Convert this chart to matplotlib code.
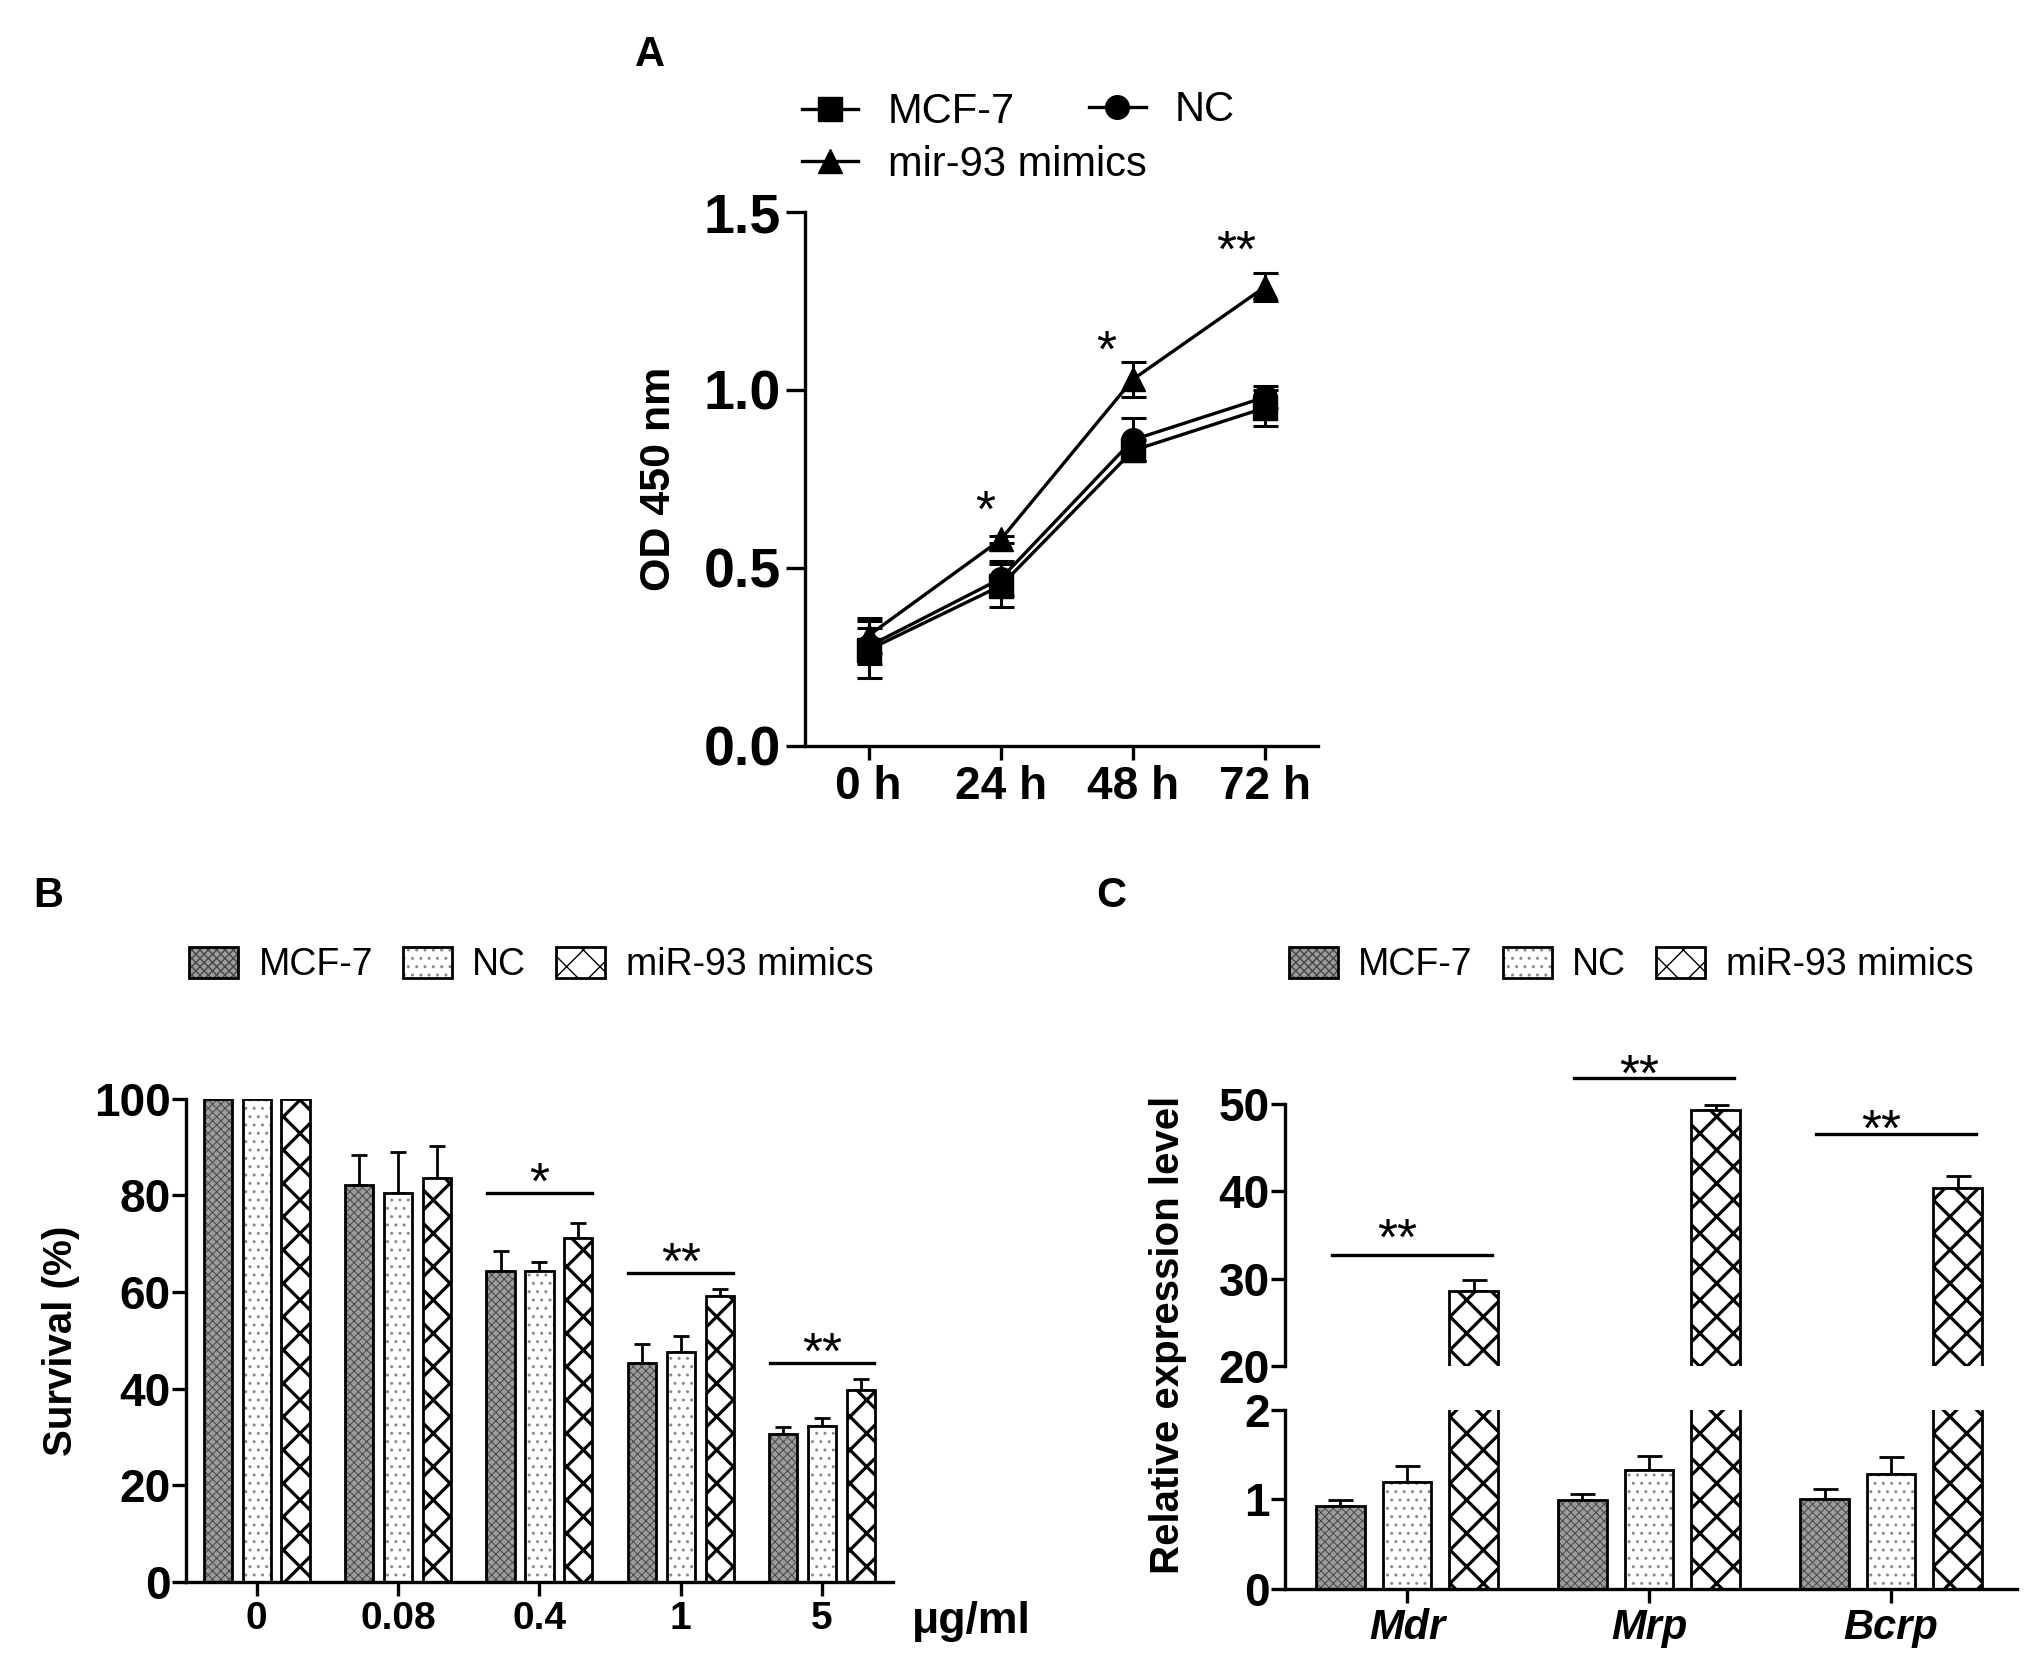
import numpy as np
import matplotlib
matplotlib.use('Agg')
import matplotlib.pyplot as plt
from matplotlib.patches import Patch
from matplotlib.lines import Line2D
from matplotlib.legend_handler import HandlerTuple

plt.rcParams['font.family'] = ['Liberation Sans', 'DejaVu Sans']
plt.rcParams['hatch.linewidth'] = 1.0

# ---- panel A : OD 450 nm over time
time_labels = ['0 h', '24 h', '48 h', '72 h']
od_mcf7 = [0.27, 0.45, 0.83, 0.95]
od_mcf7_err = [0.08, 0.06, 0.03, 0.05]
od_nc = [0.28, 0.47, 0.86, 0.98]
od_nc_err = [0.05, 0.05, 0.06, 0.03]
od_mimics = [0.31, 0.58, 1.03, 1.29]
od_mimics_err = [0.05, 0.01, 0.05, 0.04]
od_sig = ['', '*', '*', '**']
od_sig_y = [0, 0.70, 1.15, 1.43]
od_sig_dx = [0, -0.12, -0.2, -0.22]

# ---- panel B : survival vs dose
doses = ['0', '0.08', '0.4', '1', '5']
surv_mcf7 = [100, 82.1, 64.4, 45.4, 30.6]
surv_mcf7_err = [0, 6.2, 4.2, 3.8, 1.4]
surv_nc = [100, 80.6, 64.4, 47.5, 32.2]
surv_nc_err = [0, 8.3, 1.8, 3.4, 1.8]
surv_mimics = [100, 83.7, 71.3, 59.2, 39.7]
surv_mimics_err = [0, 6.5, 3.0, 1.4, 2.4]
surv_sig = ['', '', '*', '**', '**']
surv_sig_y = [0, 0, 80.6, 64.0, 45.4]

# ---- panel C : relative expression
genes = ['Mdr', 'Mrp', 'Bcrp']
expr_mcf7 = [0.93, 0.99, 1.01]
expr_mcf7_err = [0.06, 0.07, 0.11]
expr_nc = [1.20, 1.33, 1.28]
expr_nc_err = [0.17, 0.15, 0.19]
expr_mimics = [28.6, 49.3, 40.4]
expr_mimics_err = [1.2, 0.6, 1.4]
expr_sig = ['**', '**', '**']
expr_sig_y = [32.7, 53.0, 46.5]
expr_sig_gap = [22, 12, 13]   # star height above the line, points

series_names = ['MCF-7', 'NC', 'miR-93 mimics']
# face, hatch, hatch colour, hatch linewidth
styles = [('#9c9c9c', 'xxxx', '#474747', 0.7),
          ('white', '..', '#8a8a8a', 1.0),
          ('white', 'x', 'black', 2.3)]

BW = 0.2
OFF = 0.275
SPINE = 2.4
STAR = 37


def set_hlw(patches, lw):
    for p in patches:
        if hasattr(p, 'set_hatch_linewidth'):
            p.set_hatch_linewidth(lw)


def hbars(ax, x, h, err, st, cap):
    face, hatch, hc, hlw = st
    with plt.rc_context({'hatch.linewidth': hlw}):
        b = ax.bar(x, h, BW, color=face, edgecolor=hc, hatch=hatch, linewidth=0, zorder=2)
    set_hlw(b.patches, hlw)
    ax.bar(x, h, BW, fill=False, edgecolor='black', linewidth=2.0, zorder=3)
    e = np.array(err)
    ax.errorbar(x, h, yerr=[np.zeros_like(e), e], fmt='none', ecolor='black',
                elinewidth=2.0, capsize=cap, capthick=2.0, zorder=1)


def star(ax, x, y, s, gap_pt):
    # glyph centre of the asterisk sits ~0.58 em above the baseline
    ax.annotate(s, xy=(x, y), xytext=(0, gap_pt - 0.58 * STAR), textcoords='offset points',
                ha='center', va='baseline', fontsize=STAR, annotation_clip=False)


def style_ax(ax):
    for s in ['top', 'right']:
        ax.spines[s].set_visible(False)
    for s in ['left', 'bottom']:
        ax.spines[s].set_linewidth(SPINE)
    ax.tick_params(width=SPINE, length=10, direction='out')


def legend_handles():
    hs = []
    for st in styles:
        face, hatch, hc, hlw = st
        with plt.rc_context({'hatch.linewidth': hlw}):
            p1 = Patch(facecolor=face, edgecolor=hc, hatch=hatch, linewidth=0)
        set_hlw([p1], hlw)
        p2 = Patch(fill=False, edgecolor='black', linewidth=2.0)
        hs.append((p1, p2))
    return hs


fig = plt.figure(figsize=(20.31, 16.68), dpi=100)

# ================= A
axA = fig.add_axes([0.3964, 0.5528, 0.2526, 0.3201])
xa = np.arange(len(time_labels))
for vals, errs, mk in [(od_mcf7, od_mcf7_err, 's'),
                       (od_nc, od_nc_err, 'o'),
                       (od_mimics, od_mimics_err, '^')]:
    axA.errorbar(xa, vals, yerr=errs, color='black', marker=mk, markersize=17,
                 linewidth=2.4, elinewidth=2.2, capsize=9, capthick=2.2)
for i, s in enumerate(od_sig):
    if s:
        star(axA, xa[i] + od_sig_dx[i], od_sig_y[i], s, 0)
axA.set_xlim(-0.48, 3.4)
axA.set_ylim(0, 1.5)
axA.set_xticks(xa)
axA.set_xticklabels(time_labels, fontsize=33, fontweight='bold')
axA.set_yticks([0, 0.5, 1.0, 1.5])
axA.set_yticklabels(['0.0', '0.5', '1.0', '1.5'], fontsize=40, fontweight='bold')
axA.set_ylabel('OD 450 nm', fontsize=31, fontweight='bold', labelpad=18)
style_ax(axA)
axA.tick_params(axis='y', length=14)
hA1 = [Line2D([], [], color='black', marker='s', markersize=17, linewidth=2.4),
       Line2D([], [], color='black', marker='^', markersize=17, linewidth=2.4)]
hA2 = [Line2D([], [], color='black', marker='o', markersize=17, linewidth=2.4)]
fig.legend(hA1, ['MCF-7', 'mir-93 mimics'], loc='center left', borderpad=0,
           bbox_to_anchor=(0.3845, 0.917), frameon=False, fontsize=30,
           handlelength=1.36, handletextpad=0.7, labelspacing=0.3)
fig.legend(hA2, ['NC'], loc='center left', borderpad=0,
           bbox_to_anchor=(0.526, 0.934), frameon=False, fontsize=30,
           handlelength=1.36, handletextpad=0.7)
fig.text(0.32, 0.967, 'A', fontsize=30, fontweight='bold', ha='center', va='center')

# ================= B
axB = fig.add_axes([0.0916, 0.0516, 0.348, 0.2896])
xb = np.arange(len(doses))
for k, (vals, errs) in enumerate([(surv_mcf7, surv_mcf7_err),
                                  (surv_nc, surv_nc_err),
                                  (surv_mimics, surv_mimics_err)]):
    hbars(axB, xb + (k - 1) * OFF, vals, errs, styles[k], 6)
for i, s in enumerate(surv_sig):
    if s:
        y = surv_sig_y[i]
        axB.plot([xb[i] - 0.37, xb[i] + 0.37], [y, y], color='black', linewidth=2.4, clip_on=False)
        star(axB, xb[i], y, s, 17)
axB.set_xlim(-0.5, 4.5)
axB.set_ylim(0, 100)
axB.set_xticks(xb)
axB.set_xticklabels(doses, fontsize=28, fontweight='bold')
axB.set_yticks(range(0, 101, 20))
axB.set_yticklabels([str(v) for v in range(0, 101, 20)], fontsize=33, fontweight='bold')
axB.set_ylabel('Survival (%)', fontsize=29, fontweight='bold', labelpad=10)
style_ax(axB)
axB.tick_params(axis='y', pad=1)
fig.text(0.449, 0.028, 'μg/ml', fontsize=32, fontweight='bold', ha='left', va='center')
fig.legend(legend_handles(), series_names, ncol=3, loc='center left',
           bbox_to_anchor=(0.0765, 0.4215), frameon=False, fontsize=27,
           handler_map={tuple: HandlerTuple(ndivide=1, pad=0)},
           handlelength=1.3, handleheight=0.9, handletextpad=0.55, columnspacing=0.8)
fig.text(0.024, 0.463, 'B', fontsize=30, fontweight='bold', ha='center', va='center')

# ================= C (broken axis)
axCu = fig.add_axes([0.6327, 0.1811, 0.3604, 0.1571])
axCl = fig.add_axes([0.6327, 0.0474, 0.3604, 0.1073])
xc = np.arange(len(genes))
for ax in (axCu, axCl):
    for k, (vals, errs) in enumerate([(expr_mcf7, expr_mcf7_err),
                                      (expr_nc, expr_nc_err),
                                      (expr_mimics, expr_mimics_err)]):
        hbars(ax, xc + (k - 1) * OFF, vals, errs, styles[k], 9)
    ax.set_xlim(-0.504, 2.52)
    style_ax(ax)
    ax.tick_params(axis='y', pad=1)
axCu.set_ylim(20, 50)
axCu.spines['bottom'].set_visible(False)
axCu.set_xticks([])
axCu.set_yticks([20, 30, 40, 50])
axCu.set_yticklabels(['20', '30', '40', '50'], fontsize=33, fontweight='bold')
axCl.set_ylim(0, 2)
axCl.set_yticks([0, 1, 2])
axCl.set_yticklabels(['0', '1', '2'], fontsize=33, fontweight='bold')
axCl.set_xticks(xc)
axCl.set_xticklabels(genes, fontsize=30, fontweight='bold', style='italic')
for i, s in enumerate(expr_sig):
    y = expr_sig_y[i]
    axCu.plot([xc[i] - 0.31, xc[i] + 0.35], [y, y], color='black', linewidth=2.4, clip_on=False)
    star(axCu, xc[i] - 0.04, y, s, expr_sig_gap[i])
fig.text(0.575, 0.2, 'Relative expression level', rotation=90, fontsize=29,
         fontweight='bold', ha='center', va='center')
fig.legend(legend_handles(), series_names, ncol=3, loc='center left',
           bbox_to_anchor=(0.618, 0.4215), frameon=False, fontsize=27,
           handler_map={tuple: HandlerTuple(ndivide=1, pad=0)},
           handlelength=1.3, handleheight=0.9, handletextpad=0.55, columnspacing=0.8)
fig.text(0.547, 0.463, 'C', fontsize=30, fontweight='bold', ha='center', va='center')

fig.savefig('out.png', dpi=100)
